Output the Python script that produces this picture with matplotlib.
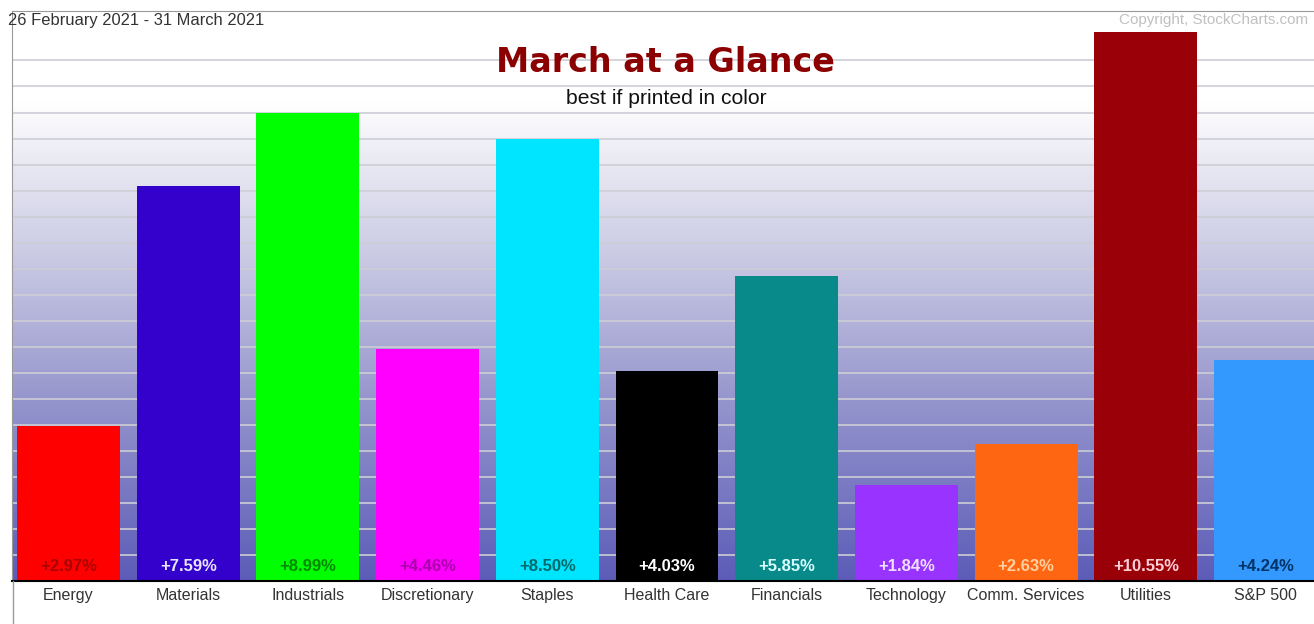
"""
March at a Glance - sector performance bar chart
"""
import numpy as np
from matplotlib import pyplot as plt
from matplotlib.colors import LinearSegmentedColormap

sectors = ["Energy", "Materials", "Industrials", "Discretionary", "Staples",
           "Health Care", "Financials", "Technology", "Comm. Services",
           "Utilities", "S&P 500"]
changes = [2.97, 7.59, 8.99, 4.46, 8.50, 4.03, 5.85, 1.84, 2.63, 10.55, 4.24]
bar_colors = ["#ff0000", "#3300cc", "#00ff00", "#ff00ff", "#00e5ff",
              "#000000", "#088a8a", "#9933ff", "#ff6611", "#990008", "#3399ff"]
label_colors = ["#aa0000", "#e8e4ff", "#008800", "#aa00aa", "#006a6a",
                "#ffffff", "#d8ffff", "#f0e0ff", "#ffd0a0", "#ffd0d8", "#003366"]


def main():
    fig = plt.figure(figsize=(13.14, 6.24), dpi=100)
    ax = fig.add_axes([12 / 1314, 43 / 624, 1 - 12 / 1314, 570 / 624])

    x = np.arange(len(sectors))
    ymax = 10.95
    ax.set_xlim(-0.472, 10.405)
    ax.set_ylim(0, ymax)

    # background gradient, white at top fading to blue-violet
    cmap = LinearSegmentedColormap.from_list(
        "bg", [(0.0, "#5c5cb8"), (0.3, "#9292cc"), (0.55, "#c6c6e2"),
               (0.75, "#ececf5"), (0.84, "#ffffff"), (1.0, "#ffffff")])
    grad = np.linspace(0, 1, 256).reshape(-1, 1)
    ax.imshow(grad, cmap=cmap, aspect="auto", origin="lower",
              extent=[-0.472, 10.405, 0, ymax], zorder=0)

    for y in np.arange(0.5, 10.5, 0.5):
        ax.axhline(y, color="#cdcdd6", lw=1.2, zorder=1)

    ax.bar(x, changes, width=0.86, color=bar_colors, zorder=2)
    for xi, v, c in zip(x, changes, label_colors):
        ax.text(xi, 0.27, f"+{v:.2f}%", ha="center", va="center",
                fontsize=12, fontweight="bold", color=c,
                family="Liberation Sans", zorder=3)

    ax.set_xticks(x)
    ax.set_xticklabels(sectors, fontsize=11.5, color="#333333",
                       family="Liberation Sans")
    ax.tick_params(axis="x", length=0, pad=5)
    ax.set_yticks([])

    ax.spines["left"].set_color("#999999")
    ax.spines["top"].set_color("#999999")
    ax.spines["bottom"].set_color("#000000")
    ax.spines["bottom"].set_linewidth(1.5)
    ax.spines["right"].set_visible(False)

    # vertical border continues below the axis
    fig.add_artist(plt.Line2D([12.5 / 1314, 12.5 / 1314], [0, 43 / 624],
                              color="#999999", lw=1))

    fig.text(8 / 1314, 1 - 20 / 624, "26 February 2021 - 31 March 2021",
             fontsize=11.9, color="#333333", family="Liberation Sans",
             ha="left", va="center")
    fig.text(1308 / 1314, 1 - 20 / 624, "Copyright, StockCharts.com",
             fontsize=11, color="#c0c0c0", family="Liberation Sans",
             ha="right", va="center")
    fig.text(665 / 1314, 1 - 62 / 624, "March at a Glance", fontsize=24,
             fontweight="bold", color="#8b0000", ha="center", va="center")
    fig.text(666 / 1314, 1 - 99 / 624, "best if printed in color",
             fontsize=15.2, color="#111111", family="Liberation Sans",
             ha="center", va="center")

    fig.savefig("out.png", dpi=100)


if __name__ == '__main__':
    main()
